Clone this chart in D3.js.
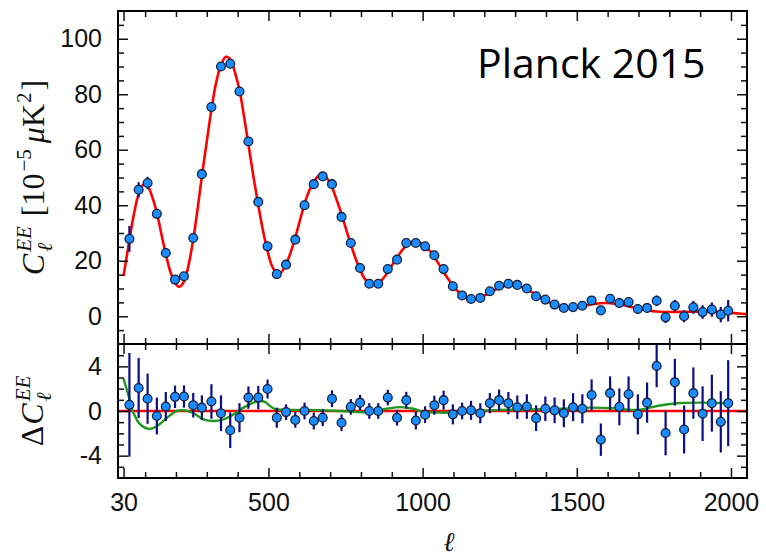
<!DOCTYPE html>
<html>
<head>
<meta charset="utf-8">
<script src="https://cdn.jsdelivr.net/npm/d3@7"></script>
<style>
  body { margin: 0; background: #fff; }
  .tick text { font-family: "Liberation Sans", Arial, sans-serif; font-size: 25px; fill: #111; }
  .tick line { stroke: #111; stroke-width: 1.5px; }
</style>
</head>
<body>
<div id="chart"></div>
<script>
var w = 766;
var h = 559;

// binned multipoles
var ell = [49, 79, 108, 138, 167, 197, 226, 256, 284, 315, 346, 376, 406, 435, 467, 497,
  527, 557, 587, 617, 647, 676, 706, 737, 767, 797, 827, 856, 887, 917, 947, 978,
  1008, 1038, 1068, 1098, 1128, 1157, 1187, 1218, 1248, 1278, 1307, 1338, 1368, 1398,
  1428, 1458, 1488, 1518, 1548, 1578, 1608, 1638, 1668, 1698, 1728, 1759, 1788, 1818,
  1848, 1878, 1908, 1938, 1967, 1991];

// C_l^EE in units of 1e-5 muK^2
var cEE = [27.9, 45.6, 48, 36.9, 22.8, 13.2, 14.4, 28.2, 51.2, 75.4, 90, 91, 81, 63, 41.2, 25.2,
  15.2, 18.6, 27.6, 40, 47.6, 50.4, 47.6, 35.8, 26.4, 17.4, 11.7, 11.7, 17, 20.4, 26.4, 26.4,
  25.2, 22, 17, 10.8, 7.5, 6.2, 6.6, 9, 11, 11.7, 11.3, 10, 7.2, 6,
  4.2, 3, 3.3, 3.8, 5.7, 2.1, 6.3, 4.8, 5.1, 2.6, 3, 5.6, -0.4, 3.8,
  0, 3.2, 1.5, 2.4, 0.6, 2];

// residuals with respect to the best fit
var dEE = [0.55, 2.06, 1.1, -0.45, 0.4, 1.27, 1.3, 0.52, 0.3, 0.85, -0.2, -1.72, -0.6, 1.2, 1.2, 1.97,
  -0.6, -0.1, -0.8, 0, -0.9, -0.6, 1.1, -1.05, 0.37, 0.75, 0, 0, 1.2, -0.6, 0.97, -0.85,
  -0.33, 0.52, 0.97, -0.3, 0, 0.06, -0.2, 0.7, 0.97, 0.7, 0.34, 0.4, -0.64, 0.2,
  0.06, -0.2, 0.34, 0.2, 1.43, -2.57, 1.6, 0.37, 1.5, -0.3, 0.75, 4.03, -1.97, 2.58,
  -1.66, 1.6, -0.24, 0.7, -0.97, 0.7];

// 1-sigma errors (same for both panels)
var errEE = [4.65, 2.7, 2.25, 1.65, 1.3, 1.0, 1.0, 1.1, 1.1, 1.55, 1.6, 1.6, 1.3, 1.0, 1.05, 0.85,
  0.9, 0.7, 0.7, 0.75, 0.75, 0.75, 0.75, 0.75, 0.7, 0.7, 0.7, 0.7, 0.7, 0.7, 0.75, 0.8,
  0.75, 0.85, 0.85, 0.9, 0.75, 0.85, 0.9, 0.9, 0.95, 1.0, 1.05, 1.1, 1.15, 1.1,
  1.15, 1.25, 1.25, 1.3, 1.4, 1.45, 1.5, 1.65, 1.6, 1.8, 1.8, 1.9, 2.0, 2.1,
  2.15, 2.3, 2.45, 2.55, 2.75, 3.85];

// best-fit model curve
var modelEll = [30, 49, 64, 79, 95, 108, 123, 138, 152, 167, 182, 197, 210, 226, 241, 256, 270, 284,
  300, 315, 330, 346, 362, 376, 391, 406, 420, 435, 451, 467, 482, 497, 512, 527, 540, 557,
  572, 587, 602, 617, 632, 647, 661, 676, 691, 706, 721, 737, 752, 767, 782, 797, 812, 827,
  842, 856, 872, 887, 902, 917, 932, 947, 962, 978, 993, 1008, 1023, 1038, 1053, 1068, 1083,
  1098, 1113, 1128, 1143, 1157, 1172, 1187, 1203, 1218, 1233, 1248, 1263, 1278, 1292, 1307,
  1322, 1338, 1353, 1368, 1383, 1398, 1413, 1428, 1443, 1458, 1473, 1488, 1503, 1518, 1533,
  1548, 1563, 1578, 1593, 1608, 1623, 1638, 1653, 1668, 1683, 1698, 1713, 1728, 1743, 1758,
  1788, 1818, 1848, 1878, 1908, 1938, 1967, 1991, 2020, 2052];
var modelEE = [14.5, 27.4, 37, 44, 47.5, 47, 43, 37.3, 30, 22.4, 16, 12, 10.6, 12.5, 18.5, 27.7, 38.5, 50.5,
  63, 74.5, 84, 90.5, 93.5, 92.7, 88, 81.5, 72.5, 62, 50.5, 40, 31, 23.5, 18, 15.5, 15.7, 18.7,
  23, 28.4, 34.5, 40.5, 45.2, 48.5, 50.5, 51, 49.5, 46.5, 42, 36.8, 31.2, 26, 21, 16.8, 13.5, 11.8,
  11.3, 11.8, 13.6, 15.9, 18.6, 21, 23.6, 25.4, 26.7, 27, 26.5, 25.4, 23.6, 21.4, 18.7, 16, 13.4,
  11.1, 9.1, 7.6, 6.6, 6.2, 6.3, 6.8, 7.6, 8.5, 9.4, 10.2, 10.8, 11.1, 11.2, 11,
  10.5, 9.6, 8.8, 7.8, 6.8, 5.8, 4.9, 4.2, 3.6, 3.3, 3.1, 3.1, 3.3, 3.6, 3.95,
  4.3, 4.55, 4.7, 4.75, 4.7, 4.55, 4.3, 3.95, 3.55, 3.15, 2.8, 2.45, 2.15, 1.9, 1.7,
  1.55, 1.55, 1.6, 1.65, 1.7, 1.65, 1.5, 1.3, 1.05, 0.75];

// difference between alternative fit and the best fit
var diffEll = [30, 46, 62, 84, 111, 138, 171, 203, 230, 257, 289, 322, 354, 387, 419, 451, 473, 490,
  505, 520, 560, 624, 733, 819, 884, 927, 970, 1000, 1057, 1165, 1250, 1350, 1450, 1540,
  1620, 1700, 1760, 1825, 1900, 1995];
var diffEE = [2.9, 1.4, -0.15, -1.2, -1.6, -1.36, -0.6, 0, 0.06, -0.2, -0.75, -0.9, -0.75, -0.3, 0.3, 0.75, 0.9, 0.8,
  0.45, 0.2, 0.1, 0.1, 0, -0.1, 0.2, 0.35, 0.2, -0.05, -0.15, 0, 0.1, 0.15, 0.2, 0.3,
  0.25, 0.1, 0.45, 0.7, 0.75, 0.7];

var xTickLabels = [30, 500, 1000, 1500, 2000];
var topTickLabels = [0, 20, 40, 60, 80, 100];
var botTickLabels = [-4, 0, 4];

var serif = '"Liberation Serif", "DejaVu Serif", serif';

var margin = {left: 118, top: 11, right: 19},
    width = w - margin.left - margin.right,
    topH = 333,
    botH = 134;

var svg = d3.select("#chart").append("svg")
    .attr("width", w)
    .attr("height", h);

var x = d3.scaleLinear().domain([12, 2052]).range([0, width]);
var yTop = d3.scaleLinear().domain([-10, 110]).range([topH, 0]);
var yBot = d3.scaleLinear().domain([-6, 6]).range([botH, 0]);

var xMinor = d3.range(100, 2001, 100).filter(function(d) { return d % 500 != 0; });

var gTop = svg.append("g").attr("transform", "translate(" + margin.left + "," + margin.top + ")");
var gBot = svg.append("g").attr("transform", "translate(" + margin.left + "," + (margin.top + topH) + ")");

function clip(g, id, hh) {
  g.append("clipPath").attr("id", id)
    .append("rect").attr("width", width).attr("height", hh);
  return g.append("g").attr("clip-path", "url(#" + id + ")");
}

// inward ticks on all four sides, major ones longer
function frame(g, y, hh, yLabels, yMinor, xLabels) {
  function add(axis, tr) {
    var a = g.append("g").attr("transform", tr).call(axis);
    a.select(".domain").remove();
    return a;
  }
  add(d3.axisBottom(x).tickValues(xTickLabels).tickSize(-10).tickPadding(15)
      .tickFormat(xLabels ? function(d) { return d; } : ""), "translate(0," + hh + ")");
  add(d3.axisBottom(x).tickValues(xMinor).tickSize(-6).tickFormat(""), "translate(0," + hh + ")");
  add(d3.axisTop(x).tickValues(xTickLabels).tickSize(-10).tickFormat(""), "translate(0,0)");
  add(d3.axisTop(x).tickValues(xMinor).tickSize(-6).tickFormat(""), "translate(0,0)");

  add(d3.axisLeft(y).tickValues(yLabels).tickSize(-10).tickPadding(16)
      .tickFormat(function(d) { return String(d); }), "translate(0,0)");
  add(d3.axisLeft(y).tickValues(yMinor).tickSize(-6).tickFormat(""), "translate(0,0)");
  add(d3.axisRight(y).tickValues(yLabels).tickSize(-10).tickFormat(""), "translate(" + width + ",0)");
  add(d3.axisRight(y).tickValues(yMinor).tickSize(-6).tickFormat(""), "translate(" + width + ",0)");

  g.append("rect")
    .attr("width", width).attr("height", hh)
    .attr("fill", "none").attr("stroke", "#000").attr("stroke-width", 2);
}

var data = ell.map(function(l, i) {
  return {l: l, c: cEE[i], d: dEE[i], e: errEE[i]};
});

var curve = d3.curveCatmullRom.alpha(0.5);

// ---- top panel: spectrum
var pTop = clip(gTop, "clipTop", topH);

pTop.append("path")
    .datum(modelEll.map(function(l, i) { return [l, modelEE[i]]; }))
    .attr("fill", "none")
    .attr("stroke", "#ff0000")
    .attr("stroke-width", 2.6)
    .attr("d", d3.line().curve(curve)
      .x(function(d) { return x(d[0]); })
      .y(function(d) { return yTop(d[1]); }));

pTop.selectAll(".err")
  .data(data)
  .enter().append("line")
    .attr("class", "err")
    .attr("x1", function(d) { return x(d.l); })
    .attr("x2", function(d) { return x(d.l); })
    .attr("y1", function(d) { return yTop(d.c - d.e); })
    .attr("y2", function(d) { return yTop(d.c + d.e); })
    .attr("stroke", "#0d0d86")
    .attr("stroke-width", 2.2);

pTop.selectAll(".pt")
  .data(data)
  .enter().append("circle")
    .attr("class", "pt")
    .attr("cx", function(d) { return x(d.l); })
    .attr("cy", function(d) { return yTop(d.c); })
    .attr("r", 4.4)
    .attr("fill", "#1a8cff")
    .attr("stroke", "#15203a")
    .attr("stroke-width", 1.3);

frame(gTop, yTop, topH, topTickLabels, d3.range(-5, 110, 5).filter(function(d) { return d % 20 != 0; }), false);

// ---- bottom panel: residuals
var pBot = clip(gBot, "clipBot", botH);

pBot.append("line")
    .attr("x1", 0).attr("x2", width)
    .attr("y1", yBot(0)).attr("y2", yBot(0))
    .attr("stroke", "#ff0000")
    .attr("stroke-width", 2.6);

pBot.append("path")
    .datum(diffEll.map(function(l, i) { return [l, diffEE[i]]; }))
    .attr("fill", "none")
    .attr("stroke", "#1f9a1f")
    .attr("stroke-width", 2.4)
    .attr("d", d3.line().curve(curve)
      .x(function(d) { return x(d[0]); })
      .y(function(d) { return yBot(d[1]); }));

pBot.selectAll(".err")
  .data(data)
  .enter().append("line")
    .attr("class", "err")
    .attr("x1", function(d) { return x(d.l); })
    .attr("x2", function(d) { return x(d.l); })
    .attr("y1", function(d) { return yBot(d.d - d.e); })
    .attr("y2", function(d) { return yBot(d.d + d.e); })
    .attr("stroke", "#0d0d86")
    .attr("stroke-width", 2.2);

pBot.selectAll(".pt")
  .data(data)
  .enter().append("circle")
    .attr("class", "pt")
    .attr("cx", function(d) { return x(d.l); })
    .attr("cy", function(d) { return yBot(d.d); })
    .attr("r", 4.4)
    .attr("fill", "#1a8cff")
    .attr("stroke", "#15203a")
    .attr("stroke-width", 1.3);

frame(gBot, yBot, botH, botTickLabels, d3.range(-5, 6, 1).filter(function(d) { return d % 4 != 0; }), true);

// ---- labels
// lays out pieces of a math label left to right; "under" stacks a piece below the previous one
function mathLabel(tr, parts) {
  var outer = svg.append("g").attr("transform", tr);
  var g = outer.append("g");
  var cx = 0, lastStart = 0, lastW = 0;
  parts.forEach(function(p) {
    var start = p.under ? lastStart : cx + (p.gap || 0);
    var t = g.append("text")
      .attr("x", start)
      .attr("y", p.y || 0)
      .style("font-family", serif)
      .style("font-size", p.size + "px")
      .style("font-style", p.italic ? "italic" : "normal")
      .attr("fill", "#111")
      .text(p.text);
    var tw = t.node().getComputedTextLength();
    if (p.under) {
      cx = start + Math.max(lastW, tw);
    } else {
      cx = start + tw;
      lastStart = start;
      lastW = tw;
    }
  });
  g.attr("transform", "translate(" + (-cx / 2) + ",0)");
}

mathLabel("translate(44," + (margin.top + topH / 2) + ") rotate(-90)", [
  {text: "C", size: 32, italic: true},
  {text: "EE", size: 21, italic: true, y: -13, gap: 2},
  {text: "\u2113", size: 21, italic: true, y: 8, under: true},
  {text: "[10", size: 32, gap: 10},
  {text: "\u22125", size: 21, y: -13, gap: 2},
  {text: "\u03bc", size: 32, italic: true, gap: 6},
  {text: "K", size: 32},
  {text: "2", size: 21, y: -13, gap: 1},
  {text: "]", size: 32, gap: 2}
]);

mathLabel("translate(43," + (margin.top + topH + botH / 2) + ") rotate(-90)", [
  {text: "\u0394", size: 32},
  {text: "C", size: 32, italic: true, gap: 1},
  {text: "EE", size: 21, italic: true, y: -13, gap: 2},
  {text: "\u2113", size: 21, italic: true, y: 8, under: true}
]);

svg.append("text")
    .attr("x", margin.left + x(1085))
    .attr("y", 551)
    .attr("text-anchor", "middle")
    .style("font-family", serif)
    .style("font-style", "italic")
    .style("font-size", "27px")
    .attr("fill", "#111")
    .text("\u2113");

svg.append("text")
    .attr("x", 477)
    .attr("y", 78)
    .style("font-family", '"Open Sans", sans-serif')
    .style("font-size", "41px")
    .attr("fill", "#000")
    .text("Planck 2015");
</script>
</body>
</html>
